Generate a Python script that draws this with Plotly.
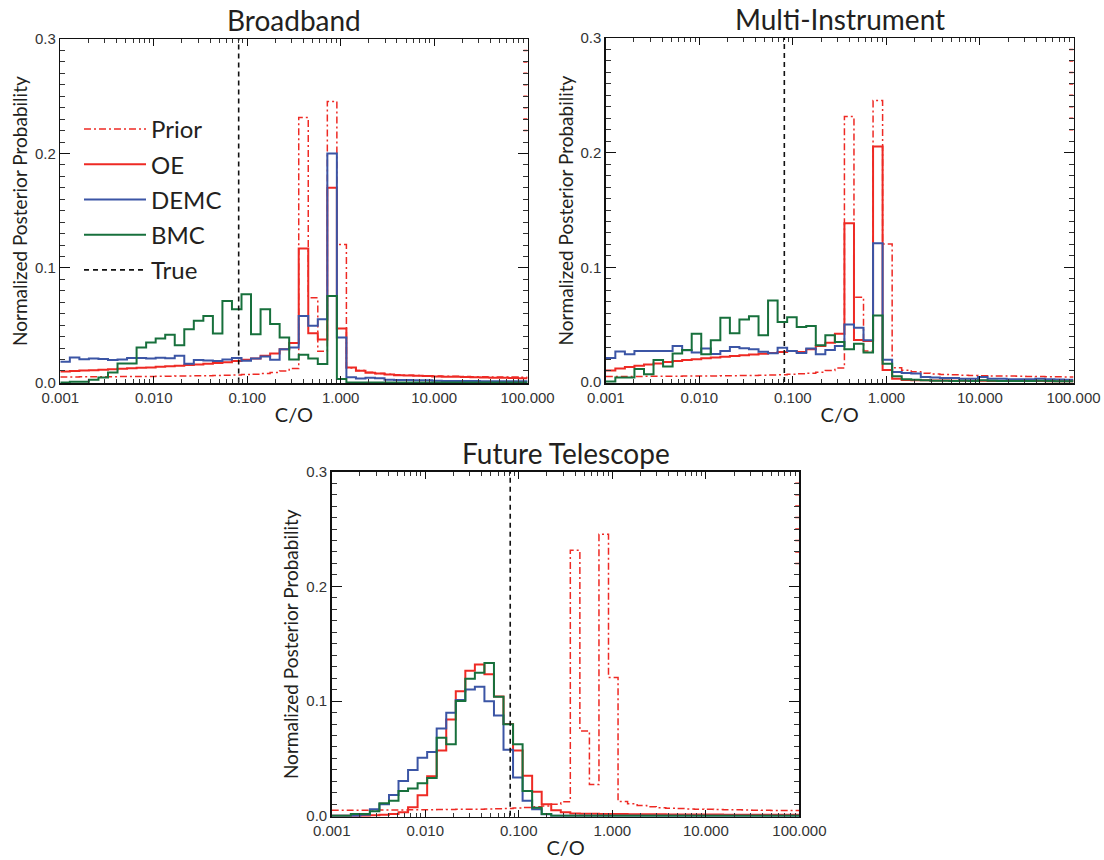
import numpy as np
import plotly.graph_objects as go

# ---------------- data ----------------
CO_LOG_MIN, CO_LOG_MAX, N_EDGES = -3, 2, 50          # 49 log-spaced C/O bins
BIN_EDGES = np.logspace(CO_LOG_MIN, CO_LOG_MAX, N_EDGES)
TRUE_CO = 0.081

PANEL_TITLES = ["Broadband", "Multi-Instrument", "Future Telescope"]

X_TICK_VALUES = [0.001, 0.01, 0.1, 1, 10, 100]
X_TICK_LABELS = ["0.001", "0.010", "0.100", "1.000", "10.000", "100.000"]
X_MINOR_VALUES = [m * 10.0 ** e for e in range(-3, 2) for m in range(2, 10)]
Y_TICK_VALUES = [0.0, 0.1, 0.2, 0.3]
Y_TICK_LABELS = ["0.0", "0.1", "0.2", "0.3"]

PRIOR = [0.0048, 0.0048, 0.0049, 0.0049, 0.0050, 0.0050, 0.0051, 0.0051, 0.0052, 0.0052,
         0.0053, 0.0054, 0.0055, 0.0056, 0.0057, 0.0058, 0.0060, 0.0062, 0.0064, 0.0068,
         0.0072, 0.0078, 0.0086, 0.0100, 0.0122, 0.2315, 0.0740, 0.0272, 0.2455, 0.1205,
         0.0125, 0.0104, 0.0089, 0.0078, 0.0071, 0.0066, 0.0063, 0.0060, 0.0058, 0.0056,
         0.0054, 0.0053, 0.0052, 0.0050, 0.0049, 0.0048, 0.0047, 0.0046, 0.0045]
PRIOR_EDGE_TICKS = [0.22, 0.23, 0.24, 0.25, 0.26, 0.27, 0.28, 0.29]

BROADBAND_OE = [0.0095, 0.0099, 0.0103, 0.0107, 0.0111, 0.0115, 0.0119, 0.0123, 0.0127, 0.0131,
                0.0136, 0.0141, 0.0146, 0.0151, 0.0157, 0.0163, 0.0169, 0.0176, 0.0186, 0.0198,
                0.0208, 0.0232, 0.0252, 0.0290, 0.0345, 0.1170, 0.0430, 0.0375, 0.1700, 0.0470,
                0.0130, 0.0102, 0.0085, 0.0078, 0.0068, 0.0063, 0.0060, 0.0058, 0.0055, 0.0052,
                0.0050, 0.0049, 0.0047, 0.0045, 0.0043, 0.0041, 0.0040, 0.0038, 0.0036]
BROADBAND_DEMC = [0.0180, 0.0218, 0.0203, 0.0209, 0.0205, 0.0196, 0.0200, 0.0214, 0.0212, 0.0208,
                  0.0215, 0.0210, 0.0232, 0.0162, 0.0195, 0.0192, 0.0186, 0.0200, 0.0212, 0.0190,
                  0.0209, 0.0227, 0.0198, 0.0290, 0.0305, 0.0580, 0.0494, 0.0552, 0.2000, 0.0392,
                  0.0045, 0.0035, 0.0040, 0.0036, 0.0022, 0.0020, 0.0020, 0.0019, 0.0018, 0.0014,
                  0.0013, 0.0012, 0.0012, 0.0012, 0.0011, 0.0011, 0.0011, 0.0010, 0.0010]
BROADBAND_BMC = [0.0000, 0.0005, 0.0005, 0.0022, 0.0042, 0.0087, 0.0164, 0.0164, 0.0305, 0.0349,
                 0.0384, 0.0416, 0.0325, 0.0465, 0.0538, 0.0580, 0.0427, 0.0712, 0.0639, 0.0770,
                 0.0420, 0.0640, 0.0510, 0.0392, 0.0200, 0.0241, 0.0209, 0.0160, 0.0755, 0.0030,
                 0.0000, 0.0000, 0.0000, 0.0000, 0.0000, 0.0000, 0.0000, 0.0000, 0.0000, 0.0000,
                 0.0000, 0.0000, 0.0000, 0.0000, 0.0000, 0.0000, 0.0000, 0.0000, 0.0000]

MULTI_OE = [0.0100, 0.0118, 0.0132, 0.0143, 0.0153, 0.0163, 0.0175, 0.0183, 0.0192, 0.0200,
            0.0208, 0.0214, 0.0220, 0.0228, 0.0234, 0.0240, 0.0248, 0.0254, 0.0262, 0.0270,
            0.0263, 0.0286, 0.0315, 0.0344, 0.0422, 0.1385, 0.0367, 0.0358, 0.2055, 0.0105,
            0.0030, 0.0018, 0.0016, 0.0015, 0.0014, 0.0013, 0.0012, 0.0012, 0.0011, 0.0011,
            0.0010, 0.0010, 0.0010, 0.0009, 0.0009, 0.0009, 0.0008, 0.0008, 0.0008]
MULTI_DEMC = [0.0210, 0.0266, 0.0243, 0.0272, 0.0272, 0.0270, 0.0272, 0.0315, 0.0278, 0.0257,
              0.0292, 0.0245, 0.0272, 0.0305, 0.0295, 0.0286, 0.0265, 0.0252, 0.0300, 0.0272,
              0.0253, 0.0292, 0.0243, 0.0280, 0.0315, 0.0503, 0.0474, 0.0364, 0.1210, 0.0194,
              0.0087, 0.0080, 0.0075, 0.0045, 0.0040, 0.0035, 0.0035, 0.0030, 0.0030, 0.0045,
              0.0030, 0.0028, 0.0025, 0.0025, 0.0025, 0.0028, 0.0025, 0.0022, 0.0020]
MULTI_BMC = [0.0005, 0.0040, 0.0040, 0.0113, 0.0069, 0.0193, 0.0136, 0.0250, 0.0280, 0.0422,
             0.0243, 0.0364, 0.0561, 0.0425, 0.0546, 0.0575, 0.0408, 0.0711, 0.0523, 0.0566,
             0.0480, 0.0489, 0.0321, 0.0408, 0.0350, 0.0287, 0.0335, 0.0257, 0.0581, 0.0160,
             0.0050, 0.0025, 0.0020, 0.0015, 0.0012, 0.0012, 0.0010, 0.0012, 0.0010, 0.0015,
             0.0012, 0.0010, 0.0010, 0.0010, 0.0010, 0.0012, 0.0010, 0.0008, 0.0008]

FUTURE_OE = [0.0000, 0.0000, 0.0000, 0.0000, 0.0005, 0.0010, 0.0015, 0.0030, 0.0075, 0.0180,
             0.0345, 0.0570, 0.0840, 0.1085, 0.1265, 0.1320, 0.1235, 0.1040, 0.0800, 0.0570,
             0.0348, 0.0209, 0.0101, 0.0049, 0.0030, 0.0020, 0.0018, 0.0017, 0.0016, 0.0015,
             0.0015, 0.0014, 0.0014, 0.0013, 0.0013, 0.0012, 0.0012, 0.0012, 0.0011, 0.0011,
             0.0011, 0.0010, 0.0010, 0.0010, 0.0010, 0.0009, 0.0009, 0.0009, 0.0009]
FUTURE_DEMC = [0.0000, 0.0000, 0.0000, 0.0008, 0.0058, 0.0101, 0.0181, 0.0304, 0.0400, 0.0507,
               0.0557, 0.0760, 0.0899, 0.1009, 0.1102, 0.1125, 0.0999, 0.0874, 0.0575, 0.0333,
               0.0130, 0.0058, 0.0014, 0.0000, 0.0000, 0.0000, 0.0000, 0.0000, 0.0000, 0.0000,
               0.0000, 0.0000, 0.0000, 0.0000, 0.0000, 0.0000, 0.0000, 0.0000, 0.0000, 0.0000,
               0.0000, 0.0000, 0.0000, 0.0000, 0.0000, 0.0000, 0.0000, 0.0000, 0.0000]
FUTURE_BMC = [0.0000, 0.0000, 0.0015, 0.0015, 0.0040, 0.0110, 0.0130, 0.0217, 0.0237, 0.0284,
              0.0330, 0.0680, 0.0623, 0.1000, 0.1194, 0.1246, 0.1333, 0.1038, 0.0797, 0.0623,
              0.0217, 0.0070, 0.0015, 0.0000, 0.0000, 0.0000, 0.0000, 0.0000, 0.0000, 0.0000,
              0.0000, 0.0000, 0.0000, 0.0000, 0.0000, 0.0000, 0.0000, 0.0000, 0.0000, 0.0000,
              0.0000, 0.0000, 0.0000, 0.0000, 0.0000, 0.0000, 0.0000, 0.0000, 0.0000]

PANELS = [
    (BROADBAND_OE, BROADBAND_DEMC, BROADBAND_BMC),
    (MULTI_OE, MULTI_DEMC, MULTI_BMC),
    (FUTURE_OE, FUTURE_DEMC, FUTURE_BMC),
]

# ---------------- style ----------------
W, H = 1104, 860
RED, BLUE, GREEN, BLACK = "#ee2a24", "#3b55a5", "#17703c", "#111111"
TXT = "#231f20"
TITLE_FONT = "Lato, 'Open Sans', sans-serif"
TICK_FONT = "'Liberation Sans', Arial, sans-serif"
EDGE_TICK_DECADES = 0.045   # length of the red right-edge tick marks (style)

# plot frames in screen pixels: (left, right, top, bottom)
FRAMES = [(60.3, 527.6, 39.0, 383.3),
          (605.8, 1073.5, 38.0, 383.0),
          (331.7, 799.4, 471.7, 816.7)]


def px_x(v):
    return v / W


def px_y(v):
    return 1 - v / H


def step(vals):
    return list(BIN_EDGES), list(vals) + [vals[-1]]


def edge_ticks():
    xs, ys = [], []
    x_hi = BIN_EDGES[-1]
    x_lo = x_hi * 10 ** (-EDGE_TICK_DECADES)
    for v in PRIOR_EDGE_TICKS:
        xs += [x_lo, x_hi, None]
        ys += [v, v, None]
    return xs, ys


fig = go.Figure()

for p, (oe, demc, bmc) in enumerate(PANELS):
    xa = "x" if p == 0 else f"x{p + 1}"
    ya = "y" if p == 0 else f"y{p + 1}"
    show = p == 0
    series = [
        ("Prior", PRIOR, dict(color=RED, width=1.5, dash="7px,3px,2px,3px")),
        ("OE", oe, dict(color=RED, width=2)),
        ("DEMC", demc, dict(color=BLUE, width=2)),
        ("BMC", bmc, dict(color=GREEN, width=2)),
    ]
    for name, vals, line in series:
        x, y = step(vals)
        fig.add_trace(go.Scatter(x=x, y=y, mode="lines", line=dict(shape="hv", **line),
                                 name=name, legendgroup=name, showlegend=show,
                                 xaxis=xa, yaxis=ya, hoverinfo="skip"))
    fig.add_trace(go.Scatter(x=[TRUE_CO, TRUE_CO], y=[0, Y_TICK_VALUES[-1]], mode="lines",
                             line=dict(color=BLACK, width=1.6, dash="5px,4px"),
                             name="True", legendgroup="True", showlegend=show,
                             xaxis=xa, yaxis=ya, hoverinfo="skip"))
    ex, ey = edge_ticks()
    fig.add_trace(go.Scatter(x=ex, y=ey, mode="lines", line=dict(color=RED, width=1.5),
                             showlegend=False, xaxis=xa, yaxis=ya, hoverinfo="skip"))

    l, r, t, b = FRAMES[p]
    xdom = [px_x(l), px_x(r)]
    ydom = [px_y(b), px_y(t)]
    xkey = "xaxis" if p == 0 else f"xaxis{p + 1}"
    ykey = "yaxis" if p == 0 else f"yaxis{p + 1}"
    fig.update_layout(**{
        xkey: dict(domain=xdom, anchor=ya, type="log", range=[CO_LOG_MIN, CO_LOG_MAX],
                   automargin=False,
                   tickmode="array", tickvals=X_TICK_VALUES, ticktext=X_TICK_LABELS,
                   ticks="inside", ticklen=7, tickwidth=1, tickcolor=BLACK,
                   minor=dict(tickmode="array", tickvals=X_MINOR_VALUES, ticks="inside",
                              ticklen=4, tickwidth=1, tickcolor="#333333"),
                   showline=True, linecolor=BLACK, linewidth=1.5, mirror="ticks",
                   showgrid=False, zeroline=False,
                   tickfont=dict(family=TICK_FONT, size=15, color="#333333"),
                   title=dict(text="C/O", standoff=3,
                              font=dict(family=TITLE_FONT, size=20, color=TXT))),
        ykey: dict(domain=ydom, anchor=xa, range=[-0.0008, 0.3], automargin=False,
                   tickmode="array", tickvals=Y_TICK_VALUES, ticktext=Y_TICK_LABELS,
                   ticks="inside", ticklen=10, tickwidth=1, tickcolor=BLACK,
                   minor=dict(dtick=0.01, ticks="inside", ticklen=5, tickwidth=1,
                              tickcolor="#333333"),
                   showline=True, linecolor=BLACK, linewidth=1.5, mirror="ticks",
                   showgrid=False, zeroline=False,
                   tickfont=dict(family=TICK_FONT, size=15, color="#333333"),
                   title=dict(text="Normalized Posterior Probability", standoff=2,
                              font=dict(family=TITLE_FONT, size=19, color=TXT))),
    })
    fig.add_annotation(text=PANEL_TITLES[p], xref="paper", yref="paper",
                       x=(xdom[0] + xdom[1]) / 2, y=px_y(t - 19),
                       xanchor="center", yanchor="middle", showarrow=False,
                       font=dict(family=TITLE_FONT, size=28, color=TXT))

fig.update_layout(
    width=W, height=H, margin=dict(l=0, r=0, t=0, b=0, autoexpand=False),
    paper_bgcolor="white", plot_bgcolor="white",
    showlegend=True,
    legend=dict(x=px_x(79), y=px_y(107), xanchor="left", yanchor="top",
                bgcolor="rgba(0,0,0,0)", tracegroupgap=1, itemwidth=62,
                font=dict(family=TITLE_FONT, size=24, color=TXT)),
)

fig.write_html("out.html",
               config={"displayModeBar": False, "staticPlot": True},
               post_script="document.body.style.margin='0';"
                           "document.body.style.overflow='hidden';")
